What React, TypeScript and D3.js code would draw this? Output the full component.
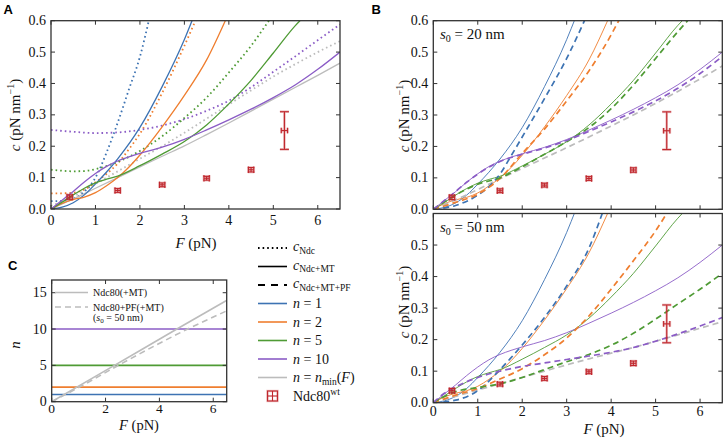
import React, { useEffect } from "react";
import * as d3 from "d3";

type P = [number, number];

// ---------- Panel A / B solid: c_Ndc+MT ----------
const mtN1: P[] = [[0,0],[0.25,0.006],[0.5,0.02],[0.75,0.045],[1,0.08],[1.25,0.118],[1.5,0.16],[2,0.26],[2.5,0.39],[3,0.54],[3.2,0.61]];
const mtN2: P[] = [[0,0],[0.25,0.018],[0.5,0.03],[0.75,0.038],[1,0.052],[1.25,0.074],[1.5,0.1],[1.75,0.133],[2,0.172],[2.5,0.262],[3,0.362],[3.5,0.475],[3.92,0.6]];
const mtN5: P[] = [[0,0],[0.25,0.022],[0.5,0.045],[0.75,0.066],[1,0.083],[1.25,0.095],[1.5,0.105],[2,0.138],[2.5,0.175],[3,0.215],[3.5,0.268],[4,0.335],[4.5,0.41],[5,0.497],[5.5,0.585],[5.6,0.6]];
const mtN10: P[] = [[0,0],[0.25,0.028],[0.5,0.056],[0.75,0.086],[1,0.113],[1.25,0.136],[1.5,0.153],[1.75,0.166],[2,0.177],[2.5,0.197],[3,0.222],[3.5,0.252],[4,0.284],[4.5,0.318],[5,0.355],[5.5,0.396],[6,0.445],[6.5,0.5]];
const mtMin: P[] = [[0,0],[0.5,0.032],[1,0.066],[1.5,0.1],[2,0.134],[2.5,0.168],[3,0.201],[3.5,0.237],[4,0.274],[4.5,0.312],[5,0.35],[5.5,0.388],[6,0.426],[6.5,0.465]];

// ---------- Panel A dotted: c_Ndc ----------
const ndcN1: P[] = [[0,0.025],[0.25,0.026],[0.5,0.033],[0.75,0.055],[1,0.1],[1.25,0.18],[1.5,0.275],[1.75,0.38],[2,0.485],[2.2,0.6]];
const ndcN2: P[] = [[0,0.05],[0.25,0.05],[0.5,0.052],[0.75,0.062],[1,0.085],[1.25,0.112],[1.5,0.145],[1.75,0.19],[2,0.24],[2.5,0.37],[3,0.52],[3.25,0.6]];
const ndcN5: P[] = [[0,0.125],[0.25,0.122],[0.5,0.12],[0.75,0.121],[1,0.127],[1.5,0.15],[2,0.185],[2.5,0.232],[3,0.29],[3.5,0.355],[4,0.435],[4.5,0.52],[4.9,0.6]];
const ndcN10: P[] = [[0,0.252],[0.5,0.246],[1,0.242],[1.5,0.244],[2,0.252],[2.5,0.266],[3,0.286],[3.5,0.313],[4,0.345],[4.5,0.388],[5,0.437],[5.5,0.487],[6,0.538],[6.5,0.588]];
const ndcMin: P[] = [[0,0.01],[0.5,0.04],[1,0.08],[1.5,0.12],[2,0.16],[2.5,0.2],[3,0.243],[3.5,0.288],[4,0.333],[4.5,0.378],[5,0.422],[5.5,0.462],[6,0.5],[6.5,0.535]];

// ---------- Panel B dashed: c_Ndc+MT+PF, s0 = 20 nm ----------
const pf20N1: P[] = [[0,0],[0.5,0.012],[1,0.045],[1.25,0.072],[1.5,0.112],[1.75,0.17],[2,0.23],[2.5,0.352],[3,0.48],[3.4,0.6]];
const pf20N2: P[] = [[0,0],[0.5,0.022],[1,0.048],[1.5,0.098],[2,0.178],[2.5,0.255],[3,0.345],[3.5,0.44],[4,0.555],[4.17,0.6]];
const pf20N5: P[] = [[0,0],[0.5,0.045],[1,0.08],[1.5,0.1],[2,0.135],[2.5,0.175],[3,0.215],[3.5,0.26],[4,0.32],[4.5,0.395],[5,0.48],[5.5,0.565],[5.72,0.6]];
const pf20N10: P[] = [[0,0],[0.25,0.028],[0.5,0.056],[0.75,0.086],[1,0.112],[1.5,0.152],[2,0.175],[2.5,0.195],[3,0.219],[3.5,0.248],[4,0.278],[4.5,0.31],[5,0.345],[5.5,0.385],[6,0.432],[6.5,0.486]];
const pf20Min: P[] = [[0,0],[0.5,0.03],[1,0.063],[1.5,0.097],[2,0.13],[2.5,0.163],[3,0.196],[3.5,0.23],[4,0.265],[4.5,0.3],[5,0.337],[5.5,0.375],[6,0.415],[6.5,0.456]];

// ---------- Panel B dashed: s0 = 50 nm ----------
const pf50N1: P[] = [[0,0],[0.5,0.008],[1,0.038],[1.5,0.105],[2,0.183],[2.5,0.27],[3,0.37],[3.5,0.49],[3.8,0.6]];
const pf50N2: P[] = [[0,0],[0.5,0.024],[1,0.045],[1.5,0.075],[2,0.108],[2.5,0.152],[3,0.205],[3.5,0.275],[4,0.36],[4.5,0.45],[5,0.545],[5.25,0.6]];
const pf50N5: P[] = [[0,0],[0.25,0.02],[0.5,0.035],[1,0.048],[1.5,0.06],[2,0.08],[2.5,0.105],[3,0.13],[3.5,0.153],[4,0.182],[4.5,0.22],[5,0.265],[5.5,0.313],[6,0.36],[6.5,0.41]];
const pf50N10: P[] = [[0,0],[0.25,0.03],[0.5,0.05],[1,0.08],[1.5,0.1],[2,0.115],[2.5,0.126],[3,0.137],[3.5,0.148],[4,0.16],[4.5,0.175],[5,0.195],[5.5,0.218],[6,0.243],[6.5,0.27]];
const pf50Min: P[] = [[0,0],[0.5,0.02],[1,0.04],[1.5,0.06],[2,0.08],[2.5,0.1],[3,0.12],[3.5,0.139],[4,0.157],[4.5,0.175],[5,0.195],[5.5,0.215],[6,0.236],[6.5,0.257]];

// ---------- Experimental Ndc80wt ----------
const dataF = [0.42, 1.5, 2.5, 3.5, 4.5, 5.25];
const dataC = [0.038, 0.059, 0.077, 0.098, 0.125, 0.25];
const dataFerr = [0.06, 0.06, 0.06, 0.06, 0.06, 0.07];
const dataCerr = [0.007, 0.006, 0.006, 0.006, 0.007, 0.06];

// ---------- Panel C ----------
const nLevels = [1, 2, 5, 10];
const nMinMT: P[] = [[0,0],[2.33,5],[4.65,10],[6.5,13.95]];
const nMinPF: P[] = [[0,0],[1,1.95],[2.45,4.95],[5.05,10],[6.5,12.5]];

// ---------- ticks ----------
const xTicks = [0, 1, 2, 3, 4, 5, 6];
const cTicks = [0, 0.1, 0.2, 0.3, 0.4, 0.5, 0.6];
const xTicksC = [0, 2, 4, 6];
const nTicks = [0, 5, 10, 15];

const COL = { n1: "#3d73b3", n2: "#ef7e2f", n5: "#4f9b35", n10: "#8b5cc6", min: "#bcbcbc", data: "#c0272d" };
const SERIF = "'Liberation Serif', 'Times New Roman', serif";
const SANS = "'Liberation Sans', Arial, sans-serif";
const FRAME = "#333";

type Sc = d3.ScaleLinear<number, number>;

function Curve({ pts, x, y, color, w, dash, clip }: { pts: P[]; x: Sc; y: Sc; color: string; w: number; dash?: string; clip: string }) {
  const gen = d3.line<P>().x(d => x(d[0])).y(d => y(d[1])).curve(d3.curveMonotoneX);
  return <path d={gen(pts) || ""} fill="none" stroke={color} strokeWidth={w} strokeDasharray={dash} clipPath={`url(#${clip})`} />;
}

function Frame({ x, y, xt, yt, xLabels, yLabels, yFmt, xLabelY, fs = 14 }: { x: Sc; y: Sc; xt: number[]; yt: number[]; xLabels: boolean; yLabels: number[]; yFmt: (v: number) => string; xLabelY: number; fs?: number }) {
  const [x0, x1] = x.range();
  const [y0, y1] = y.range();
  return (
    <g>
      {xt.map(t => (
        <g key={"x" + t}>
          <line x1={x(t)} x2={x(t)} y1={y0} y2={y0 - 4} stroke={FRAME} strokeWidth={1} />
          <line x1={x(t)} x2={x(t)} y1={y1} y2={y1 + 4} stroke={FRAME} strokeWidth={1} />
          {xLabels && <text x={x(t)} y={xLabelY} textAnchor="middle" fontFamily={SERIF} fontSize={fs} fill="#111">{t}</text>}
        </g>
      ))}
      {yt.map(t => (
        <g key={"y" + t}>
          <line x1={x0} x2={x0 + 4} y1={y(t)} y2={y(t)} stroke={FRAME} strokeWidth={1} />
          <line x1={x1} x2={x1 - 4} y1={y(t)} y2={y(t)} stroke={FRAME} strokeWidth={1} />
        </g>
      ))}
      {yLabels.map(t => (
        <text key={"yl" + t} x={x0 - 5} y={y(t) + 4.5} textAnchor="end" fontFamily={SERIF} fontSize={14} fill="#111">{yFmt(t)}</text>
      ))}
      <rect x={x0} y={y1} width={x1 - x0} height={y0 - y1} fill="none" stroke={FRAME} strokeWidth={1.3} />
    </g>
  );
}

function ErrPts({ x, y }: { x: Sc; y: Sc }) {
  return (
    <g>
      {dataF.map((f, i) => {
        const cx = x(f), cy = y(dataC[i]);
        const xl = x(f - dataFerr[i]), xr = x(f + dataFerr[i]);
        const yt = y(dataC[i] + dataCerr[i]), yb = y(dataC[i] - dataCerr[i]);
        const capY = i === 5 ? 4.5 : 3.2;
        const capX = i === 5 ? 2.8 : 3.2;
        const segs = (
          <>
            <line x1={xl} x2={xr} y1={cy} y2={cy} />
            <line x1={xl} x2={xl} y1={cy - capX} y2={cy + capX} />
            <line x1={xr} x2={xr} y1={cy - capX} y2={cy + capX} />
            <line x1={cx} x2={cx} y1={yt} y2={yb} />
            <line x1={cx - capY} x2={cx + capY} y1={yt} y2={yt} />
            <line x1={cx - capY} x2={cx + capY} y1={yb} y2={yb} />
          </>
        );
        return (
          <g key={i}>
            <g stroke={COL.data} strokeWidth={2.6} opacity={0.3}>{segs}</g>
            <g stroke={COL.data} strokeWidth={1.1}>{segs}</g>
          </g>
        );
      })}
    </g>
  );
}

function YLabel({ x, y }: { x: number; y: number }) {
  return (
    <text transform={`translate(${x},${y}) rotate(-90)`} textAnchor="middle" fontFamily={SERIF} fontSize={15} fill="#111">
      <tspan fontStyle="italic">c</tspan>
      <tspan> (pN nm</tspan>
      <tspan fontSize={10} dy={-6}>−1</tspan>
      <tspan dy={6}>)</tspan>
    </text>
  );
}

function FLabel({ x, y, fs = 15 }: { x: number; y: number; fs?: number }) {
  return (
    <text x={x} y={y} textAnchor="middle" fontFamily={SERIF} fontSize={fs} fill="#111">
      <tspan fontStyle="italic">F</tspan>
      <tspan> (pN)</tspan>
    </text>
  );
}

export default function App() {
  useEffect(() => {
    document.body.style.margin = "0";
  }, []);

  const xA = d3.scaleLinear().domain([0, 6.5]).range([51, 340]);
  const yA = d3.scaleLinear().domain([0, 0.6]).range([209, 20.7]);
  const xB = d3.scaleLinear().domain([0, 6.5]).range([433.3, 722.3]);
  const yB1 = d3.scaleLinear().domain([0, 0.6]).range([209.3, 20.7]);
  const yB2 = d3.scaleLinear().domain([0, 0.6]).range([402.7, 213.5]);
  const xC = d3.scaleLinear().domain([0, 6.5]).range([51.7, 226.7]);
  const yC = d3.scaleLinear().domain([0, 16.75]).range([401.7, 280]);

  const fmt1 = d3.format(".1f");
  const fmtI = d3.format("d");

  const mtSeries: [P[], string][] = [[mtN1, COL.n1], [mtN2, COL.n2], [mtN5, COL.n5], [mtN10, COL.n10]];
  const ndcSeries: [P[], string][] = [[ndcMin, COL.min], [ndcN1, COL.n1], [ndcN2, COL.n2], [ndcN5, COL.n5], [ndcN10, COL.n10]];
  const pf20Series: [P[], string][] = [[pf20Min, COL.min], [pf20N1, COL.n1], [pf20N2, COL.n2], [pf20N5, COL.n5], [pf20N10, COL.n10]];
  const pf50Series: [P[], string][] = [[pf50Min, COL.min], [pf50N1, COL.n1], [pf50N2, COL.n2], [pf50N5, COL.n5], [pf50N10, COL.n10]];

  const clipRect = (id: string, x: Sc, y: Sc) => {
    const [x0, x1] = x.range();
    const [y0, y1] = y.range();
    return (
      <clipPath id={id}>
        <rect x={x0} y={y1} width={x1 - x0} height={y0 - y1} />
      </clipPath>
    );
  };

  const legRows = [248, 266.5, 285, 303.5, 322, 340.5, 359, 377.5, 396];
  const lx0 = 258, lx1 = 287, tx = 293;
  const legColors = [COL.n1, COL.n2, COL.n5, COL.n10, COL.min];
  const legN = ["1", "2", "5", "10"];

  return (
    <svg width={726} height={440} style={{ position: "absolute", left: 0, top: 0, background: "#fff" }}>
      <defs>
        {clipRect("clipA", xA, yA)}
        {clipRect("clipB1", xB, yB1)}
        {clipRect("clipB2", xB, yB2)}
        {clipRect("clipC", xC, yC)}
      </defs>
      <rect width={726} height={440} fill="#fff" />

      {/* Panel A */}
      <text x={3.5} y={13.5} fontFamily={SANS} fontWeight="bold" fontSize={13}>A</text>
      {ndcSeries.map(([p, c], i) => (
        <Curve key={"ad" + i} pts={p} x={xA} y={yA} color={c} w={1.8} dash="1.6 3" clip="clipA" />
      ))}
      <Curve pts={mtMin} x={xA} y={yA} color={COL.min} w={1.3} clip="clipA" />
      {mtSeries.map(([p, c], i) => (
        <Curve key={"as" + i} pts={p} x={xA} y={yA} color={c} w={1.3} clip="clipA" />
      ))}
      <ErrPts x={xA} y={yA} />
      <Frame x={xA} y={yA} xt={xTicks} yt={cTicks} xLabels={true} yLabels={cTicks} yFmt={fmt1} xLabelY={224.5} />
      <YLabel x={20} y={115} />
      <FLabel x={196} y={248} />

      {/* Panel B top */}
      <text x={371.5} y={13.5} fontFamily={SANS} fontWeight="bold" fontSize={13}>B</text>
      {mtSeries.map(([p, c], i) => (
        <Curve key={"b1s" + i} pts={p} x={xB} y={yB1} color={c} w={0.9} clip="clipB1" />
      ))}
      {pf20Series.map(([p, c], i) => (
        <Curve key={"b1d" + i} pts={p} x={xB} y={yB1} color={c} w={1.7} dash="6 4" clip="clipB1" />
      ))}
      <ErrPts x={xB} y={yB1} />
      <Frame x={xB} y={yB1} xt={xTicks} yt={cTicks} xLabels={false} yLabels={cTicks} yFmt={fmt1} xLabelY={0} />
      <YLabel x={409} y={116} />
      <text x={440} y={39} fontFamily={SERIF} fontSize={15} fill="#111">
        <tspan fontStyle="italic">s</tspan>
        <tspan fontSize={10} dy={3}>0</tspan>
        <tspan dy={-3}>{" = 20 nm"}</tspan>
      </text>

      {/* Panel B bottom */}
      {mtSeries.map(([p, c], i) => (
        <Curve key={"b2s" + i} pts={p} x={xB} y={yB2} color={c} w={0.9} clip="clipB2" />
      ))}
      {pf50Series.map(([p, c], i) => (
        <Curve key={"b2d" + i} pts={p} x={xB} y={yB2} color={c} w={1.7} dash="6 4" clip="clipB2" />
      ))}
      <ErrPts x={xB} y={yB2} />
      <Frame x={xB} y={yB2} xt={xTicks} yt={cTicks} xLabels={true} yLabels={cTicks.slice(0, 6)} yFmt={fmt1} xLabelY={416} />
      <YLabel x={409} y={302} />
      <FLabel x={604} y={434} />
      <text x={440} y={232} fontFamily={SERIF} fontSize={15} fill="#111">
        <tspan fontStyle="italic">s</tspan>
        <tspan fontSize={10} dy={3}>0</tspan>
        <tspan dy={-3}>{" = 50 nm"}</tspan>
      </text>

      {/* Panel C */}
      <text x={8} y={270} fontFamily={SANS} fontWeight="bold" fontSize={13}>C</text>
      {nLevels.map((n, i) => (
        <line key={"cn" + n} x1={xC(0)} x2={xC(6.5)} y1={yC(n)} y2={yC(n)} stroke={legColors[i]} strokeWidth={1.6} clipPath="url(#clipC)" />
      ))}
      <Curve pts={nMinMT} x={xC} y={yC} color={COL.min} w={1.6} clip="clipC" />
      <Curve pts={nMinPF} x={xC} y={yC} color={COL.min} w={1.6} dash="6 4" clip="clipC" />
      <Frame x={xC} y={yC} xt={xTicksC} yt={nTicks} xLabels={true} yLabels={nTicks} yFmt={fmtI} xLabelY={412.5} fs={13.5} />
      <text transform={`translate(20,345) rotate(-90)`} textAnchor="middle" fontFamily={SERIF} fontSize={15} fontStyle="italic" fill="#111">n</text>
      <FLabel x={139} y={430} fs={14.5} />
      <line x1={55} x2={88} y1={292.5} y2={292.5} stroke={COL.min} strokeWidth={1.6} />
      <line x1={55} x2={88} y1={307} y2={307} stroke={COL.min} strokeWidth={1.6} strokeDasharray="6 4" />
      <text x={93} y={296} fontFamily={SERIF} fontSize={10} fill="#111">Ndc80(+MT)</text>
      <text x={93} y={310.5} fontFamily={SERIF} fontSize={10} fill="#111">Ndc80+PF(+MT)</text>
      <text x={93} y={321} fontFamily={SERIF} fontSize={10} fill="#111">
        <tspan>(</tspan>
        <tspan fontStyle="italic">s</tspan>
        <tspan fontSize={7} dy={2}>0</tspan>
        <tspan dy={-2}>{" = 50 nm)"}</tspan>
      </text>

      {/* Legend */}
      <line x1={lx0} x2={lx1} y1={legRows[0]} y2={legRows[0]} stroke="#000" strokeWidth={1.8} strokeDasharray="1.6 3" />
      <line x1={lx0} x2={lx1} y1={legRows[1]} y2={legRows[1]} stroke="#000" strokeWidth={1.6} />
      <line x1={lx0} x2={lx1} y1={legRows[2]} y2={legRows[2]} stroke="#000" strokeWidth={1.8} strokeDasharray="7 6" />
      {["Ndc", "Ndc+MT", "Ndc+MT+PF"].map((s, i) => (
        <text key={"lc" + i} x={tx} y={legRows[i] + 3} fontFamily={SERIF} fontSize={14} fill="#111">
          <tspan fontStyle="italic">c</tspan>
          <tspan fontSize={9.5} dy={2.5}>{s}</tspan>
        </text>
      ))}
      {legN.map((n, i) => (
        <g key={"ln" + n}>
          <line x1={lx0} x2={lx1} y1={legRows[3 + i]} y2={legRows[3 + i]} stroke={legColors[i]} strokeWidth={1.6} />
          <text x={tx} y={legRows[3 + i] + 4.5} fontFamily={SERIF} fontSize={14} fill="#111">
            <tspan fontStyle="italic">n</tspan>
            <tspan>{" = " + n}</tspan>
          </text>
        </g>
      ))}
      <line x1={lx0} x2={lx1} y1={legRows[7]} y2={legRows[7]} stroke={COL.min} strokeWidth={1.6} />
      <text x={tx} y={legRows[7] + 4.5} fontFamily={SERIF} fontSize={14} fill="#111">
        <tspan fontStyle="italic">n</tspan>
        <tspan>{" = "}</tspan>
        <tspan fontStyle="italic">n</tspan>
        <tspan fontSize={9.5} dy={2.5}>min</tspan>
        <tspan dy={-2.5}>(</tspan>
        <tspan fontStyle="italic">F</tspan>
        <tspan>)</tspan>
      </text>
      <g stroke={COL.data}>
        <rect x={267.5} y={legRows[8] - 5} width={10} height={10} fill="none" strokeWidth={2.4} opacity={0.3} />
        <rect x={267.5} y={legRows[8] - 5} width={10} height={10} fill="none" strokeWidth={1.1} />
        <line x1={267.5} x2={277.5} y1={legRows[8]} y2={legRows[8]} strokeWidth={1.1} />
        <line x1={272.5} x2={272.5} y1={legRows[8] - 5} y2={legRows[8] + 5} strokeWidth={1.1} />
      </g>
      <text x={tx} y={legRows[8] + 4.5} fontFamily={SERIF} fontSize={14} fill="#111">
        <tspan>Ndc80</tspan>
        <tspan fontSize={9.5} dy={-6}>wt</tspan>
      </text>
    </svg>
  );
}
